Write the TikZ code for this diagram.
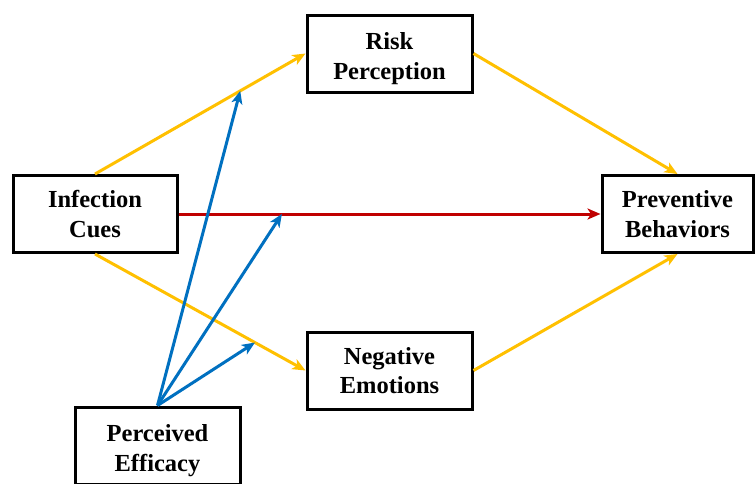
\documentclass[tikz,border=0pt]{standalone}
\usepackage{fontspec}
\setmainfont{Liberation Serif}
\usetikzlibrary{arrows.meta}
\definecolor{cyellow}{HTML}{FFC000}
\definecolor{cred}{HTML}{C00000}
\definecolor{cblue}{HTML}{0070C0}
\newcommand{\lowtext}{\rule{0pt}{27pt}}
\tikzset{
  box/.style={draw=black, line width=3pt, fill=white, minimum width=#1, minimum height=77pt,
    align=center, inner sep=0pt, font=\fontsize{24.5}{29.5}\selectfont\bfseries},
  box/.default=165pt,
  conn/.style={line width=3pt, -{Stealth[length=13pt,width=11pt,inset=3.5pt]}},
  yel/.style={conn, draw=cyellow, color=cyellow},
  redc/.style={conn, draw=cred, color=cred},
  blu/.style={conn, draw=cblue, color=cblue},
}
\begin{document}
\begin{tikzpicture}[x=1pt,y=-1pt]
\useasboundingbox (0,0) rectangle (755,483);
\clip (0,0) rectangle (755,483);
\fill[white] (0,0) rectangle (755,483);
\node[box=164pt] (ic) at (95,214) {Infection\\Cues};
\node[box] (rp) at (389.5,53.5) {\lowtext Risk\\Perception};
\node[box=151pt] (pb) at (677.5,214) {Preventive\\Behaviors};
\node[box] (ne) at (389.5,370.5) {Negative\\Emotions};
\node[box] (pe) at (157.5,445.5) {\lowtext Perceived\\Efficacy};
\path (ic.north) -- (rp.west) coordinate[pos=0.69] (m1);
\path (ic.east) -- (pb.west) coordinate[pos=0.245] (m2);
\path (ic.south) -- (ne.west) coordinate[pos=0.76] (m3);
\draw[yel] (ic.north) -- (rp.west);
\draw[yel] (rp.east) -- (pb.north);
\draw[yel] (ic.south) -- (ne.west);
\draw[yel] (ne.east) -- (pb.south);
\draw[redc] (ic.east) -- (pb.west);
\draw[blu] (pe.north) -- (m1);
\draw[blu] (pe.north) -- (m2);
\draw[blu] (pe.north) -- (m3);
\end{tikzpicture}
\end{document}
